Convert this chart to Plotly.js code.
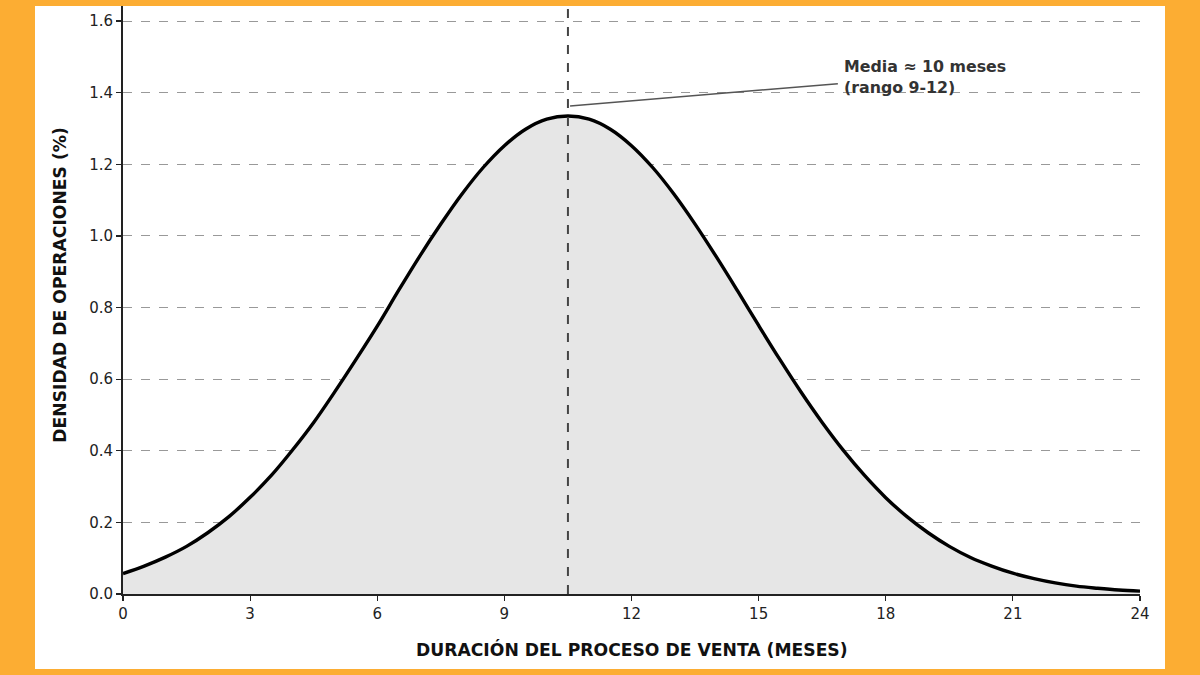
<!DOCTYPE html>
<html>
<head>
<meta charset="utf-8">
<script src="https://cdn.plot.ly/plotly-3.0.1.min.js"></script>
<style>
  html, body { margin:0; padding:0; }
  body { width:1200px; height:675px; background:#FCAD33; position:relative; overflow:hidden; }
  #panel { position:absolute; left:35px; top:6px; width:1130px; height:663px; background:#ffffff; }
  #plotly { position:absolute; left:0; top:0; width:1200px; height:675px; }
</style>
</head>
<body>
<div id="panel"></div>
<div id="plotly"></div>
<script>
// months of the sale process and density (%)
var months  = [0, 0.5, 1, 1.5, 2, 2.5, 3, 3.5, 4, 4.5, 5, 5.5, 6, 6.5, 7, 7.5, 8, 8.5, 9, 9.5, 10, 10.5,
               11, 11.5, 12, 12.5, 13, 13.5, 14, 14.5, 15, 15.5, 16, 16.5, 17, 17.5, 18, 18.5, 19, 19.5,
               20, 20.5, 21, 21.5, 22, 22.5, 23, 23.5, 24];
var density = [0.057, 0.078, 0.103, 0.133, 0.171, 0.216, 0.270, 0.331, 0.402, 0.479, 0.565, 0.655, 0.748, 0.847,
               0.943, 1.033, 1.117, 1.191, 1.252, 1.298, 1.326, 1.335,
               1.326, 1.298, 1.252, 1.191, 1.117, 1.033, 0.942, 0.847, 0.750, 0.655, 0.564, 0.479, 0.401, 0.331,
               0.269, 0.216, 0.171, 0.133, 0.102, 0.078, 0.058, 0.043, 0.031, 0.022, 0.016, 0.011, 0.008];
var xTicks  = [0, 3, 6, 9, 12, 15, 18, 21, 24];
var meanX   = 10.5;
var noteLine = {x0: 10.55, y0: 1.363, x1: 16.87, y1: 1.425};
var noteText = 'Media ≈ 10 meses<br>(rango 9-12)';

function plotChart() {
  var curve = {
    x: months, y: density,
    mode: 'lines', type: 'scatter',
    fill: 'tozeroy', fillcolor: '#e6e6e6',
    line: {color: '#000000', width: 3.4, shape: 'spline', smoothing: 1},
    hoverinfo: 'skip', showlegend: false
  };

  var font = 'DejaVu Sans, Verdana, sans-serif';

  var layout = {
    width: 1200, height: 675,
    margin: {l: 123, r: 60, t: 6, b: 81},
    paper_bgcolor: 'rgba(0,0,0,0)',
    plot_bgcolor: 'rgba(0,0,0,0)',
    font: {family: font, color: '#222222'},
    xaxis: {
      range: [0, 24], tickvals: xTicks, showgrid: false, zeroline: false,
      showline: true, linecolor: '#222222', linewidth: 2,
      ticks: 'outside', ticklen: 5, tickwidth: 1.2, tickcolor: '#222222',
      tickfont: {size: 15, color: '#222222'}
    },
    yaxis: {
      range: [0, 1.642], dtick: 0.2, tick0: 0, tickformat: '.1f', zeroline: false,
      showgrid: true, gridcolor: '#999999', gridwidth: 1, griddash: 'dash',
      showline: true, linecolor: '#222222', linewidth: 2,
      ticks: 'outside', ticklen: 5, tickwidth: 1.2, tickcolor: '#222222',
      tickfont: {size: 15, color: '#222222'}
    },
    shapes: [
      {type: 'line', xref: 'x', yref: 'paper', x0: meanX, x1: meanX, y0: 0, y1: 1,
       line: {color: '#444444', width: 2, dash: 'dash'}},
      {type: 'line', xref: 'x', yref: 'y', x0: noteLine.x0, y0: noteLine.y0, x1: noteLine.x1, y1: noteLine.y1,
       line: {color: '#555555', width: 1.5}}
    ],
    annotations: [
      {text: noteText, xref: 'x', yref: 'y', x: 16.97, y: 1.443, xanchor: 'left', yanchor: 'middle',
       align: 'left', showarrow: false, font: {size: 15.8, color: '#333333', family: font, weight: 'bold'}},
      {text: 'DURACIÓN DEL PROCESO DE VENTA (MESES)', xref: 'paper', yref: 'paper', x: 0.5, y: -0.094,
       xanchor: 'center', yanchor: 'middle', showarrow: false,
       font: {size: 17.2, color: '#111111', family: font, weight: 'bold'}},
      {text: 'DENSIDAD DE OPERACIONES (%)', xref: 'paper', yref: 'paper', x: -0.0620, y: 0.526,
       xanchor: 'center', yanchor: 'middle', textangle: -90, showarrow: false,
       font: {size: 17.2, color: '#111111', family: font, weight: 'bold'}}
    ]
  };

  Plotly.newPlot('plotly', [curve], layout, {staticPlot: true, displayModeBar: false});
}
plotChart();
</script>
</body>
</html>
